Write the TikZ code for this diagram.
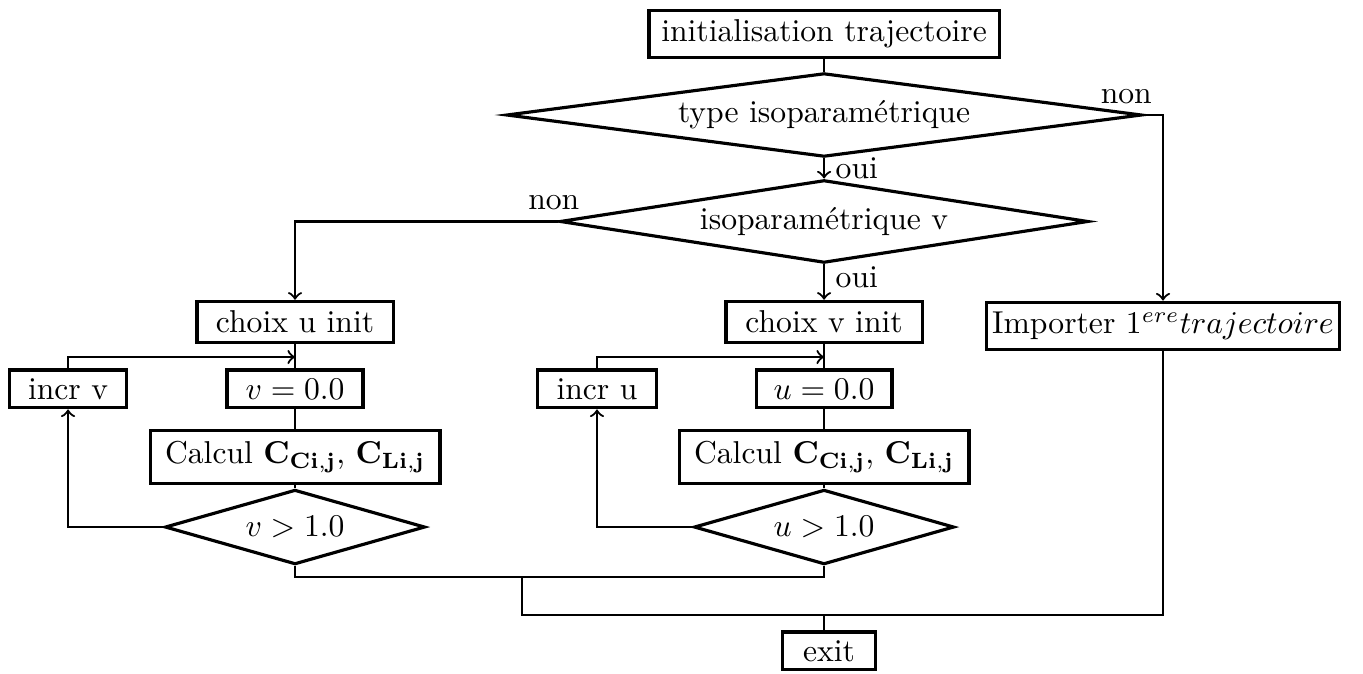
\documentclass[tikz,border=0pt]{standalone}
\usetikzlibrary{shapes.geometric}
\begin{document}
\begin{tikzpicture}
    \tikzstyle{blk} = [rectangle, draw, line width=1pt, inner sep=0pt]
    \tikzstyle{test} = [diamond, draw, line width=1pt, inner sep=0pt]
    \tikzstyle{lnk} = [line width=0.7pt]
    \useasboundingbox (0,0) rectangle (15.144,-7.478);
    % tronc commun
    \node [blk, minimum width=3.89cm, minimum height=0.53cm] (init) at (9.156,-0.378) {initialisation trajectoire};
    \node [test, aspect=7.6, minimum width=7.06cm, minimum height=0.93cm] (typ) at (9.156,-1.278) {type isoparam\'etrique};
    \node [test, aspect=6.4, minimum width=5.87cm, minimum height=0.92cm] (isov) at (9.156,-2.461) {isoparam\'etrique v};
    \node [blk, minimum width=3.92cm, minimum height=0.53cm] (imp) at (12.922,-3.622) {Importer $1^{ere}trajectoire$};
    % branche u
    \node [blk, minimum width=2.18cm, minimum height=0.46cm] (chu) at (3.278,-3.578) {choix u init};
    \node [blk, minimum width=1.30cm, minimum height=0.42cm] (incv) at (0.756,-4.322) {incr v};
    \node [blk, minimum width=1.51cm, minimum height=0.42cm] (vz) at (3.278,-4.322) {$v=0.0$};
    \node [blk, minimum width=3.22cm, minimum height=0.59cm] (calv) at (3.278,-5.078) {Calcul $\mathbf{C_{Ci,j}}$, $\mathbf{C_{Li,j}}$};
    \node [test, aspect=3.5, minimum width=2.89cm, minimum height=0.83cm] (dv) at (3.278,-5.856) {$v>1.0$};
    % branche v
    \node [blk, minimum width=2.18cm, minimum height=0.46cm] (chv) at (9.156,-3.578) {choix v init};
    \node [blk, minimum width=1.32cm, minimum height=0.42cm] (incu) at (6.633,-4.322) {incr u};
    \node [blk, minimum width=1.51cm, minimum height=0.42cm] (uz) at (9.156,-4.322) {$u=0.0$};
    \node [blk, minimum width=3.22cm, minimum height=0.59cm] (calu) at (9.156,-5.078) {Calcul $\mathbf{C_{Ci,j}}$, $\mathbf{C_{Li,j}}$};
    \node [test, aspect=3.5, minimum width=2.89cm, minimum height=0.83cm] (du) at (9.156,-5.856) {$u>1.0$};
    \node [blk, minimum width=1.03cm, minimum height=0.42cm] (exit) at (9.211,-7.233) {exit};
    \coordinate (jv) at (3.278,-3.967);
    \coordinate (ju) at (9.156,-3.967);
    \coordinate (m1) at (5.8,-6.411);
    \coordinate (m2) at (5.8,-6.833);
    % liaisons
    \draw [lnk] (init) -- (typ);
    \draw [lnk,->] (typ) -- node [right] (oui1) {oui} (isov);
    \draw [lnk,->] (typ.east) -| node [pos=0, above, xshift=-0.19cm] (non1) {non} (imp.north);
    \draw [lnk,->] (isov) -- node [right, pos=0.35] (oui2) {oui} (chv);
    \draw [lnk,->] (isov.west) -| node [pos=0, above, xshift=-0.05cm] (non2) {non} (chu.north);
    \draw [lnk] (chu) -- (vz); \draw [lnk] (vz) -- (calv); \draw [lnk] (calv) -- (dv);
    \draw [lnk] (chv) -- (uz); \draw [lnk] (uz) -- (calu); \draw [lnk] (calu) -- (du);
    \draw [lnk,->] (dv.west) -| (incv.south);
    \draw [lnk,->] (incv.north) |- (jv);
    \draw [lnk,->] (du.west) -| (incu.south);
    \draw [lnk,->] (incu.north) |- (ju);
    \draw [lnk] (dv.south) |- (m1) -| (du.south);
    \draw [lnk] (m1) -- (m2) -| (imp.south);
    \draw [lnk] (du |- m2) -- (du |- exit.north);
\end{tikzpicture}
\end{document}
